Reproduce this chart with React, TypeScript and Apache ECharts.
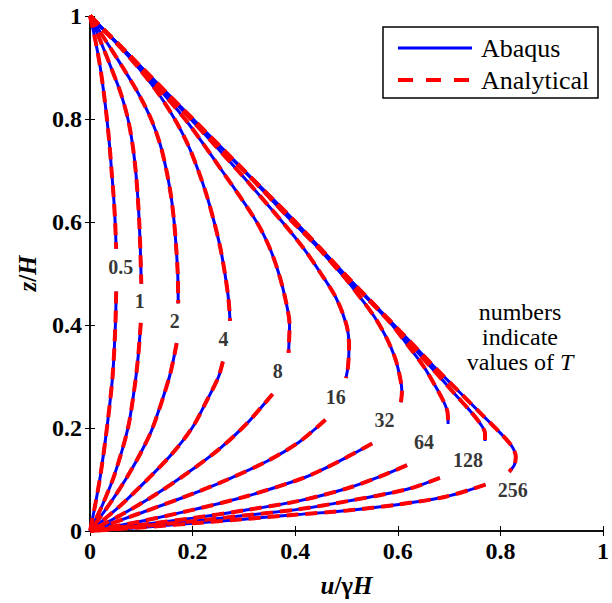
import React, { useEffect, useRef } from "react";
import * as echarts from "echarts";

const FONT = "Liberation Serif, Times New Roman, Times, DejaVu Serif, serif";

const T_LABELS = ["0.5", "1", "2", "4", "8", "16", "32", "64", "128", "256"];
const LABEL_X = [0.06, 0.097, 0.165, 0.26, 0.366, 0.479, 0.574, 0.651, 0.737, 0.824];
const LABEL_Y = [0.512, 0.446, 0.407, 0.372, 0.31, 0.26, 0.215, 0.173, 0.138, 0.08];

const LEGEND_NAMES = ["Abaqus", "Analytical"];

// upper (above label gap) and lower (below label gap) parts of each curve: [u/γH, z/H]
const U05 = [[0, 1], [0.011, 0.95], [0.02, 0.9], [0.027, 0.85], [0.033, 0.8], [0.038, 0.75], [0.042, 0.7], [0.046, 0.65], [0.049, 0.6], [0.051, 0.548]];
const L05 = [[0.051, 0.465], [0.0495, 0.4], [0.044, 0.3], [0.033, 0.2], [0.02, 0.106], [0.01, 0.05], [0, 0]];
const U1 = [[0, 1], [0.021, 0.95], [0.041, 0.9], [0.06, 0.85], [0.074, 0.8], [0.083, 0.75], [0.089, 0.7], [0.093, 0.65], [0.096, 0.6], [0.098, 0.55], [0.1, 0.48]];
const L1 = [[0.099, 0.404], [0.094, 0.34], [0.087, 0.28], [0.074, 0.2], [0.048, 0.11], [0.024, 0.05], [0, 0]];
const U2 = [[0, 1], [0.032, 0.95], [0.064, 0.9], [0.094, 0.85], [0.119, 0.8], [0.137, 0.75], [0.149, 0.7], [0.158, 0.65], [0.164, 0.6], [0.168, 0.55], [0.171, 0.5], [0.172, 0.442]];
const L2 = [[0.169, 0.365], [0.155, 0.3], [0.122, 0.2], [0.098, 0.15], [0.073, 0.106], [0.04, 0.055], [0, 0]];
const U4 = [[0, 1], [0.049, 0.95], [0.094, 0.9], [0.133, 0.85], [0.165, 0.8], [0.191, 0.75], [0.211, 0.7], [0.228, 0.65], [0.242, 0.6], [0.254, 0.55], [0.263, 0.5], [0.27, 0.45], [0.273, 0.408]];
const L4 = [[0.259, 0.329], [0.25, 0.298], [0.226, 0.25], [0.199, 0.2], [0.16, 0.15], [0.118, 0.106], [0.06, 0.05], [0, 0]];
const U8 = [[0, 1], [0.05, 0.95], [0.097, 0.9], [0.185, 0.8], [0.257, 0.7], [0.325, 0.6], [0.351, 0.548], [0.368, 0.5], [0.381, 0.45], [0.389, 0.4], [0.387, 0.346]];
const L8 = [[0.356, 0.266], [0.305, 0.208], [0.253, 0.16], [0.189, 0.112], [0.125, 0.069], [0.06, 0.031], [0, 0]];
const U16 = [[0, 1], [0.1, 0.9], [0.196, 0.8], [0.288, 0.7], [0.375, 0.6], [0.417, 0.548], [0.45, 0.5], [0.48, 0.452], [0.5, 0.4], [0.505, 0.36], [0.503, 0.32], [0.499, 0.297]];
const L16 = [[0.459, 0.216], [0.408, 0.173], [0.344, 0.135], [0.266, 0.099], [0.189, 0.068], [0.093, 0.033], [0, 0]];
const U32 = [[0, 1], [0.1, 0.9], [0.2, 0.8], [0.3, 0.7], [0.395, 0.6], [0.445, 0.55], [0.49, 0.5], [0.528, 0.452], [0.555, 0.415], [0.578, 0.375], [0.595, 0.335], [0.605, 0.295], [0.608, 0.27], [0.606, 0.25]];
const L32 = [[0.55, 0.17], [0.502, 0.144], [0.444, 0.115], [0.405, 0.099], [0.3, 0.066], [0.2, 0.041], [0.1, 0.019], [0, 0]];
const U64 = [[0, 1], [0.1, 0.9], [0.2, 0.8], [0.3, 0.7], [0.4, 0.6], [0.49, 0.5], [0.54, 0.452], [0.585, 0.405], [0.62, 0.36], [0.65, 0.32], [0.674, 0.28], [0.69, 0.25], [0.697, 0.23], [0.698, 0.208]];
const L64 = [[0.618, 0.128], [0.566, 0.106], [0.502, 0.083], [0.405, 0.058], [0.3, 0.04], [0.2, 0.025], [0.1, 0.012], [0, 0]];
const U128 = [[0, 1], [0.1, 0.9], [0.2, 0.8], [0.3, 0.7], [0.4, 0.6], [0.495, 0.5], [0.59, 0.4], [0.663, 0.32], [0.712, 0.265], [0.742, 0.232], [0.761, 0.208], [0.77, 0.19], [0.77, 0.175]];
const L128 = [[0.682, 0.103], [0.618, 0.081], [0.502, 0.058], [0.405, 0.042], [0.3, 0.03], [0.2, 0.019], [0.1, 0.009], [0, 0]];
const U256 = [[0, 1], [0.1, 0.9], [0.2, 0.8], [0.3, 0.7], [0.4, 0.6], [0.495, 0.5], [0.593, 0.4], [0.67, 0.32], [0.72, 0.27], [0.765, 0.225], [0.8, 0.19], [0.822, 0.165], [0.83, 0.144], [0.827, 0.128], [0.817, 0.115]];
const L256 = [[0.771, 0.09], [0.695, 0.067], [0.598, 0.051], [0.502, 0.04], [0.405, 0.032], [0.3, 0.023], [0.2, 0.015], [0.1, 0.007], [0, 0]];

const SEGMENTS = [U05, L05, U1, L1, U2, L2, U4, L4, U8, L8, U16, L16, U32, L32, U64, L64, U128, L128, U256, L256];

const BLUE = "#0000ff";
const RED = "#ff0000";

export default function App() {
  const ref = useRef<HTMLDivElement>(null);
  useEffect(() => {
    if (!ref.current) return;
    const chart = echarts.init(ref.current, null, { renderer: "svg" });
    const blue = SEGMENTS.map((d) => ({
      type: "line",
      name: LEGEND_NAMES[0],
      data: d,
      smooth: 0.3,
      symbol: "none",
      lineStyle: { color: BLUE, width: 3, type: "solid" },
      itemStyle: { color: BLUE },
      z: 2,
    }));
    const red = SEGMENTS.map((d) => ({
      type: "line",
      name: LEGEND_NAMES[1],
      data: d,
      smooth: 0.3,
      symbol: "none",
      lineStyle: { color: RED, width: 4, type: [12, 7] },
      itemStyle: { color: RED },
      z: 3,
    }));
    const labels = {
      type: "scatter",
      name: "labels",
      data: T_LABELS.map((t, i) => [LABEL_X[i], LABEL_Y[i], t]),
      symbolSize: 0,
      silent: true,
      z: 5,
      label: {
        show: true,
        position: "inside",
        formatter: (p: any) => p.data[2],
        fontFamily: FONT,
        fontSize: 20,
        fontWeight: "bold",
        color: "#000",
      },
    };
    const axisCommon = {
      type: "value",
      min: 0,
      max: 1,
      interval: 0.2,
      axisLine: { show: true, lineStyle: { color: "#000", width: 1.5 } },
      axisTick: { show: true, inside: true, length: 5, lineStyle: { color: "#000", width: 1 } },
      splitLine: { show: false },
    };
    const richName = {
      i: { fontFamily: FONT, fontSize: 25, fontStyle: "italic", fontWeight: "bold", color: "#000" },
      n: { fontFamily: FONT, fontSize: 25, fontWeight: "bold", color: "#000" },
    };
    const option = {
      animation: false,
      backgroundColor: "#fff",
      textStyle: { fontFamily: FONT },
      grid: { left: 90, right: 4, top: 16, bottom: 68, containLabel: false },
      legend: { show: false, data: LEGEND_NAMES },
      xAxis: [
        {
          ...axisCommon,
          position: "bottom",
          name: "{i|u}{n|/γ}{i|H}",
          nameLocation: "middle",
          nameGap: 42,
          nameTextStyle: { fontFamily: FONT, rich: richName },
          axisLabel: { show: true, fontFamily: FONT, fontSize: 24, fontWeight: "bold", color: "#000", margin: 8 },
        },
        { ...axisCommon, position: "top", axisLabel: { show: false } },
      ],
      yAxis: [
        {
          ...axisCommon,
          position: "left",
          name: "{i|z}{n|/}{i|H}",
          nameLocation: "middle",
          nameGap: 50,
          nameRotate: 90,
          nameTextStyle: { fontFamily: FONT, rich: richName },
          axisLabel: { show: true, fontFamily: FONT, fontSize: 24, fontWeight: "bold", color: "#000", margin: 8 },
        },
        { ...axisCommon, position: "right", axisLabel: { show: false } },
      ],
      graphic: [
        {
          type: "group",
          z: 100,
          children: [
            {
              type: "rect",
              shape: { x: 383, y: 27, width: 215, height: 71 },
              style: { fill: "#fff", stroke: "#000", lineWidth: 1.5 },
            },
            {
              type: "line",
              shape: { x1: 398, y1: 48, x2: 472, y2: 48 },
              style: { stroke: BLUE, lineWidth: 3 },
            },
            {
              type: "line",
              shape: { x1: 398, y1: 80, x2: 472, y2: 80 },
              style: { stroke: RED, lineWidth: 4, lineDash: [15, 13] },
            },
            {
              type: "text",
              x: 481,
              y: 48,
              style: { text: LEGEND_NAMES[0], fontFamily: FONT, fontSize: 26, fill: "#000", verticalAlign: "middle" },
            },
            {
              type: "text",
              x: 481,
              y: 80,
              style: { text: LEGEND_NAMES[1], fontFamily: FONT, fontSize: 26, fill: "#000", verticalAlign: "middle" },
            },
          ],
        },
        {
          type: "text",
          x: 520,
          y: 299,
          z: 100,
          style: {
            text: "{r|numbers}\n{r|indicate}\n{r|values of }{i|T}",
            fontFamily: FONT,
            fontSize: 24,
            lineHeight: 25,
            fill: "#000",
            align: "center",
            verticalAlign: "top",
            rich: {
              r: { fontFamily: FONT, fontSize: 24, lineHeight: 25, fill: "#000" },
              i: { fontFamily: FONT, fontSize: 24, fontStyle: "italic", lineHeight: 25, fill: "#000" },
            },
          },
        },
      ],
      series: [...blue, ...red, labels],
    };
    chart.setOption(option as any);
    return () => chart.dispose();
  }, []);
  return (
    <div
      ref={ref}
      style={{ position: "fixed", left: 0, top: 0, width: 612, height: 603, background: "#fff" }}
    />
  );
}
